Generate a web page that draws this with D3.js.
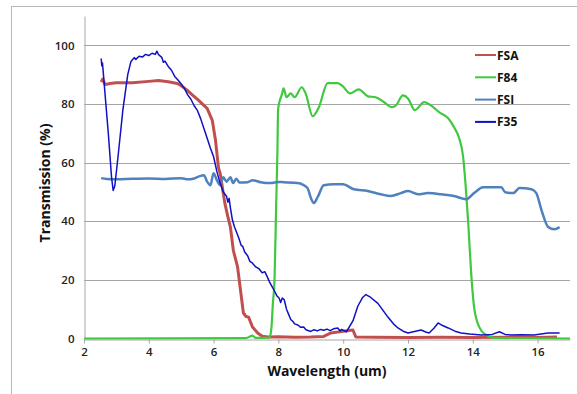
<!DOCTYPE html>
<html>
<head>
<meta charset="utf-8">
<script src="https://cdn.jsdelivr.net/npm/d3@7"></script>
<style>
  body { margin: 0; background: #fff; }
  svg { display: block; font-family: "Open Sans", "Liberation Sans", sans-serif; }
</style>
</head>
<body>
<svg id="chart" width="577" height="394"></svg>
<script>
// series: [wavelength (um), transmission (%)]
const seriesNames = ['FSA', 'F84', 'FSI', 'F35'];

const fsa = [[2.53,87.5],[2.58,88.5],[2.65,86.6],[2.8,87],[3.0,87.2],[3.5,87.2],[4.0,87.7],[4.3,88],
  [4.6,87.6],[4.88,87],[5.0,86.2],[5.18,84.7],[5.35,83],[5.53,81.3],[5.7,79.5],[5.8,78.5],[5.96,74.4],
  [6.06,67.5],[6.15,58.3],[6.21,56],[6.27,51.5],[6.35,46],[6.43,42],[6.52,37.9],[6.61,30],[6.74,24.4],
  [6.83,16.5],[6.92,8.7],[7.0,7.5],[7.08,7.3],[7.2,3.9],[7.36,1.9],[7.5,0.8],[7.67,0.5],[8.0,0.6],
  [8.5,0.4],[9.0,0.5],[9.4,0.7],[9.62,1.9],[9.83,2.2],[10.0,2.5],[10.3,2.9],[10.39,0.5],[11,0.4],
  [12,0.3],[13,0.4],[14,0.3],[15,0.4],[16,0.3],[16.6,0.5]];

const f84 = [[2.0,0],[7.0,0.1],[7.2,1],[7.3,0.2],[7.72,0.3],[7.78,3],[7.83,12],[7.88,20],[7.93,45],
  [7.97,64],[7.99,78],[8.04,81],[8.1,83],[8.16,85.3],[8.25,82.3],[8.38,83.6],[8.5,82.3],[8.72,85.7],
  [8.84,83.6],[9.06,75.8],[9.25,78.9],[9.52,87.1],[9.83,87.1],[9.99,86],[10.21,83.6],[10.48,85],
  [10.76,82.6],[11.0,82.3],[11.26,80.6],[11.5,78.9],[11.63,79.5],[11.84,82.9],[12.0,81.9],[12.21,77.9],
  [12.5,80.6],[12.71,79.5],[12.96,77.2],[13.24,75.1],[13.42,72.1],[13.58,68.3],[13.7,62],[13.78,52],
  [13.86,39.3],[13.95,22.3],[14.04,10.7],[14.2,3.9],[14.41,1.2],[14.66,0.2],[17,0]];

const fsi = [[2.53,54.7],[2.7,54.4],[3.0,54.3],[3.5,54.5],[4.0,54.6],[4.5,54.4],[5.0,54.7],[5.2,54.3],
  [5.4,54.6],[5.55,55.3],[5.7,55.7],[5.8,53.5],[5.9,52.3],[6.0,56.4],[6.1,54],[6.2,52.3],[6.3,55],
  [6.4,53.5],[6.52,55],[6.6,53],[6.7,54.5],[6.8,53.2],[7.05,53.3],[7.2,54],[7.45,53.3],[7.76,53],
  [8.0,53.4],[8.16,53.3],[8.59,53],[8.75,52.5],[8.9,51.3],[9.0,48],[9.09,46.2],[9.21,48.2],[9.4,52.3],
  [9.71,52.6],[9.99,52.6],[10.33,50.9],[10.76,50.3],[11.16,49.2],[11.47,48.6],[11.78,49.6],[12.0,50.3],
  [12.31,49.2],[12.62,49.6],[13.02,49.2],[13.42,48.6],[13.8,47.5],[14.04,49.6],[14.32,51.6],[14.57,51.6],
  [14.88,51.6],[15.0,49.9],[15.25,49.6],[15.44,51.3],[15.81,50.9],[15.96,49.6],[16.12,43.8],[16.33,38],
  [16.52,37.3],[16.68,38]];

const f35 = [[2.53,95.5],[2.55,93],[2.57,94],[2.6,90],[2.75,70],[2.85,55],[2.9,50.5],[2.95,52],[3.05,62],
  [3.2,78],[3.35,90],[3.45,94.5],[3.55,95.8],[3.6,95.2],[3.7,96.3],[3.8,96],[3.9,96.9],[4.0,96.5],
  [4.1,97.3],[4.2,96.9],[4.25,98],[4.3,96.8],[4.4,95.9],[4.45,94.2],[4.5,94.6],[4.6,92.8],[4.7,91.5],
  [4.8,89.4],[4.9,88.2],[5.0,86.8],[5.1,85.3],[5.2,83.1],[5.3,81.6],[5.4,79.4],[5.5,77.8],[5.6,75],[5.75,70],
  [5.9,65],[6.0,62],[6.1,57],[6.2,53],[6.3,50],[6.35,49.2],[6.4,48.5],[6.44,46.5],[6.48,47.8],[6.52,44.5],
  [6.58,40.5],[6.64,38.2],[6.7,36.5],[6.78,34.2],[6.85,31.8],[6.9,31.4],[6.96,29.5],[7.05,28.2],[7.12,26.3],
  [7.2,25.7],[7.3,24.4],[7.4,23.8],[7.5,22.4],[7.58,22.8],[7.65,21.2],[7.72,19.4],[7.8,17.8],[7.88,16.2],
  [7.95,14.6],[8.02,13.8],[8.07,12.3],[8.12,13.8],[8.18,13.2],[8.25,10],[8.31,8.4],[8.38,6.5],[8.45,5.8],
  [8.5,5],[8.6,4.6],[8.69,3.8],[8.78,3.9],[8.85,3],[9.0,2.4],[9.1,3],[9.2,2.6],[9.3,3.1],[9.4,2.8],[9.5,3.2],
  [9.6,2.7],[9.7,3.3],[9.83,3.6],[9.9,2.6],[9.95,3.1],[10.1,2.3],[10.3,6],[10.45,11],[10.6,14],[10.7,15],
  [10.85,14],[11.07,12],[11.2,10],[11.38,7.3],[11.55,5],[11.69,3.6],[11.85,2.5],[12.0,1.9],[12.2,2.4],
  [12.4,2.9],[12.55,2.2],[12.65,1.9],[12.8,3.5],[12.93,5.3],[13.05,4.5],[13.24,3.6],[13.45,2.5],[13.64,1.9],
  [13.9,1.5],[14.26,1.2],[14.6,1.4],[14.82,2.3],[15.0,1.4],[15.19,1.2],[15.5,1.3],[15.9,1.2],[16.1,1.5],
  [16.33,1.9],[16.68,1.9]];

const xTicks = [2, 4, 6, 8, 10, 12, 14, 16];
const yTicks = [0, 20, 40, 60, 80, 100];

const styles = {
  FSA: { color: '#c0504d', width: 3, smooth: false },
  F84: { color: '#40c840', width: 2.2, smooth: true },
  FSI: { color: '#4f81bd', width: 2.5, smooth: true },
  F35: { color: '#1010c4', width: 1.5, smooth: false },
};
const dataByName = { FSA: fsa, F84: f84, FSI: fsi, F35: f35 };

const svg = d3.select('#chart');
const margin = { left: 84, right: 7, top: 16, bottom: 55.5 };
const W = 577, H = 394;

// outer chart frame
svg.append('rect')
  .attr('x', 11.5).attr('y', 6.5)
  .attr('width', 600).attr('height', 500)
  .attr('fill', 'none').attr('stroke', '#b8b8b8');

const x = d3.scaleLinear().domain([2, 17]).range([margin.left, W - margin.right]);
const y = d3.scaleLinear().domain([0, 110]).range([H - margin.bottom, margin.top]);

// gridlines
svg.append('g')
  .selectAll('line')
  .data(yTicks.filter(d => d > 0)).enter().append('line')
  .attr('x1', x(2)).attr('x2', x(17))
  .attr('y1', d => Math.round(y(d)) + 0.5).attr('y2', d => Math.round(y(d)) + 0.5)
  .attr('stroke', '#a6a6a6');

// axes
const xAxis = svg.append('g')
  .attr('transform', `translate(0,${Math.round(y(0)) + 0.5})`)
  .call(d3.axisBottom(x).tickValues(xTicks).tickSize(4).tickSizeOuter(0).tickPadding(4));
const yAxis = svg.append('g')
  .attr('transform', `translate(${Math.round(x(2)) + 0.5},0)`)
  .call(d3.axisLeft(y).tickValues(yTicks).tickSize(0).tickSizeOuter(0).tickPadding(10));

[xAxis, yAxis].forEach(a => {
  a.select('.domain').attr('stroke', '#a6a6a6');
  a.selectAll('.tick line').attr('stroke', '#a6a6a6');
  a.selectAll('.tick text')
    .attr('font-family', '"Open Sans", sans-serif')
    .attr('font-size', 11.5)
    .attr('font-weight', 600)
    .attr('fill', '#222');
});
yAxis.selectAll('.tick line').remove();

// series
svg.append('clipPath').attr('id', 'plot')
  .append('rect')
  .attr('x', x(2)).attr('y', y(110))
  .attr('width', x(17) - x(2)).attr('height', y(0) - y(110) + 2);

seriesNames.forEach(name => {
  const s = styles[name];
  const line = d3.line()
    .x(d => x(d[0]))
    .y(d => y(d[1]))
    .curve(s.smooth ? d3.curveMonotoneX : d3.curveLinear);
  svg.append('path')
    .datum(dataByName[name])
    .attr('clip-path', 'url(#plot)')
    .attr('d', line)
    .attr('fill', 'none')
    .attr('stroke', s.color)
    .attr('stroke-width', s.width)
    .attr('stroke-linejoin', 'round');
});

// axis titles
svg.append('text')
  .attr('x', 327).attr('y', 376)
  .attr('text-anchor', 'middle')
  .attr('font-size', 14).attr('font-weight', 'bold').attr('fill', '#111')
  .text('Wavelength (um)');
svg.append('text')
  .attr('transform', 'translate(50,183) rotate(-90)')
  .attr('text-anchor', 'middle')
  .attr('font-size', 14).attr('font-weight', 'bold').attr('fill', '#111')
  .text('Transmission (%)');

// legend
const legend = svg.append('g')
  .selectAll('g')
  .data(seriesNames).enter().append('g')
  .attr('transform', (d, i) => `translate(475,${55 + i * 22.3})`);
legend.append('line')
  .attr('x1', 0).attr('x2', 21)
  .attr('stroke', d => styles[d].color)
  .attr('stroke-width', 2);
legend.append('text')
  .attr('x', 22).attr('y', 4.5)
  .attr('font-size', 12).attr('font-weight', 'bold').attr('fill', '#111')
  .text(d => d);
</script>
</body>
</html>
